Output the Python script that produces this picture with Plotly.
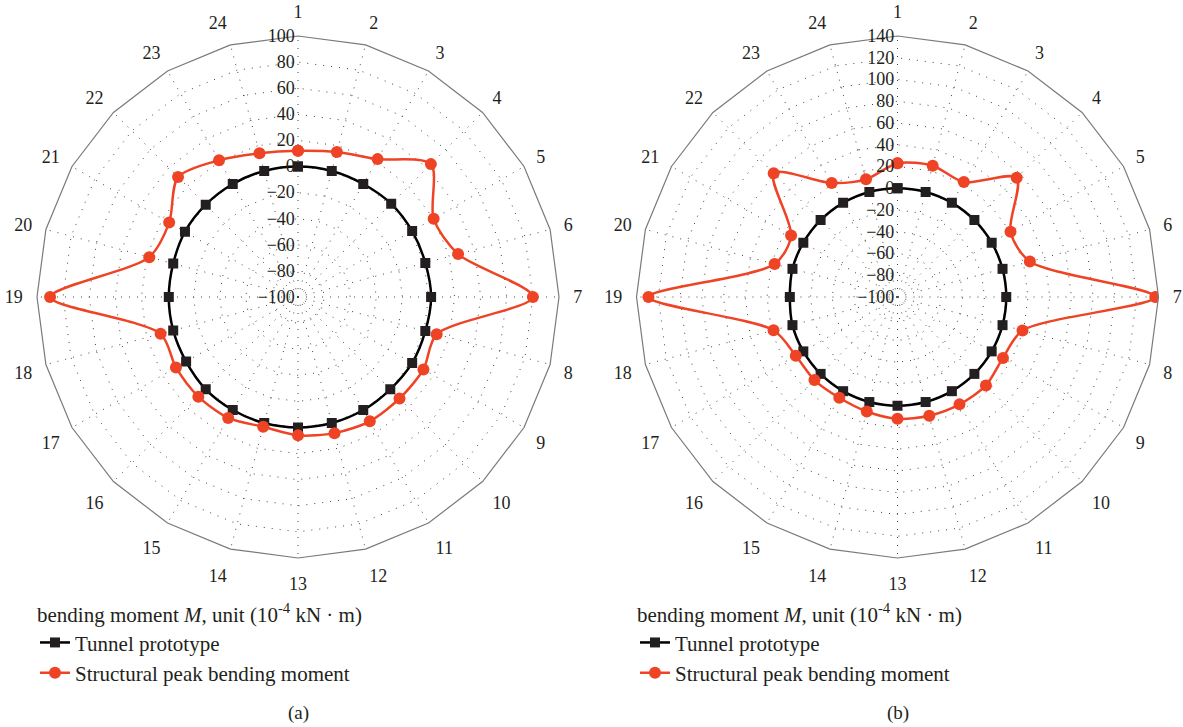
import plotly.graph_objects as go

categories = [str(i) for i in range(1, 25)]

# Panel (a)
proto_a = [0, 0, 0, 1, 1, 1, 2, 1, 1, 0, 0, 0, 0, 0, 0, 0, -1, -1, -1, -1, 0, 0, 0, 0]
peak_a = [12, 15, 22, 44, 20, 27, 80, 10, 11, 10, 10, 8, 6, 3, 7, 8, 8, 9, 90, 18, 14, 30, 21, 14]

# Panel (b)
proto_b = [0, 0, 0, 0, 0, 0, 0, 0, 0, 0, 0, 0, 0, 0, 0, 0, 0, 0, -1, 0, 0, 0, 0, 0]
peak_b = [23, 25, 22, 55, 20, 26, 137, 19, 12, 15, 14, 13, 12, 9, 7, 8, 8, 18, 129, 17, 13, 61, 21, 12]

tick_a = list(range(-100, 101, 20))
tick_b = list(range(-100, 141, 20))

BLACK = "#231f20"
RED = "#ee4425"
TXT = "#231f20"
FONT = "Liberation Serif"

W, H = 1183, 727


def closed(v):
    return list(v) + [v[0]]


theta = closed(categories)

fig = go.Figure()

for (proto, peak, sub, leg) in [(proto_a, peak_a, "polar", "legend"),
                                (proto_b, peak_b, "polar2", "legend2")]:
    fig.add_trace(go.Scatterpolar(
        r=closed(proto), theta=theta, subplot=sub, legend=leg,
        mode="lines+markers", name="Tunnel prototype", cliponaxis=True,
        line=dict(color="black", width=2.5, shape="spline", smoothing=1),
        marker=dict(symbol="square", size=10, color=BLACK),
    ))
    fig.add_trace(go.Scatterpolar(
        r=closed(peak), theta=theta, subplot=sub, legend=leg,
        mode="lines+markers", name="Structural peak bending moment", cliponaxis=True,
        line=dict(color=RED, width=2.5, shape="spline", smoothing=0.8),
        marker=dict(symbol="circle", size=12, color=RED),
    ))


def polar_cfg(cx, cy, R, ticks):
    return dict(
        domain=dict(x=[(cx - R) / W, (cx + R) / W],
                    y=[1 - (cy + R) / H, 1 - (cy - R) / H]),
        bgcolor="white",
        gridshape="linear",
        angularaxis=dict(
            direction="clockwise", rotation=90,
            categoryorder="array", categoryarray=categories,
            showline=True, linecolor="#7a7a7a", linewidth=1.2,
            showgrid=True, gridcolor="#444444", gridwidth=1, griddash="1px,7px",
            ticks="outside", ticklen=10, tickcolor="rgba(0,0,0,0)",
            tickfont=dict(family=FONT, size=18, color=TXT),
        ),
        radialaxis=dict(
            range=[ticks[0], ticks[-1]], tickvals=ticks,
            angle=90, tickangle=90, side="counterclockwise",
            showline=False, ticks="",
            showgrid=True, gridcolor="#444444", gridwidth=1, griddash="1px,7px",
            tickfont=dict(family=FONT, size=18, color=TXT),
        ),
    )


legend_title = "bending moment <i>M</i>, unit (10<sup>-4</sup> kN · m)"


def legend_cfg(x):
    return dict(
        x=x / W, y=1 - 595 / H, xanchor="left", yanchor="top",
        title=dict(text=legend_title, font=dict(family=FONT, size=21, color=TXT)),
        font=dict(family=FONT, size=21, color=TXT),
        bgcolor="rgba(0,0,0,0)", itemwidth=30, tracegroupgap=0,
    )


fig.update_layout(
    width=W, height=H,
    margin=dict(l=0, r=0, t=0, b=0, autoexpand=False),
    paper_bgcolor="white",
    polar=polar_cfg(298, 297, 261, tick_a),
    polar2=polar_cfg(897.5, 297, 261, tick_b),
    legend=legend_cfg(35),
    legend2=legend_cfg(635),
    annotations=[
        dict(text="(a)", x=298 / W, y=1 - 713 / H, xref="paper", yref="paper",
             xanchor="center", yanchor="middle",
             showarrow=False, font=dict(family=FONT, size=19, color=TXT)),
        dict(text="(b)", x=897.5 / W, y=1 - 713 / H, xref="paper", yref="paper",
             xanchor="center", yanchor="middle",
             showarrow=False, font=dict(family=FONT, size=19, color=TXT)),
    ],
)

fig.write_html("out.html", config={"displayModeBar": False},
               post_script="document.body.style.margin='0px';")
